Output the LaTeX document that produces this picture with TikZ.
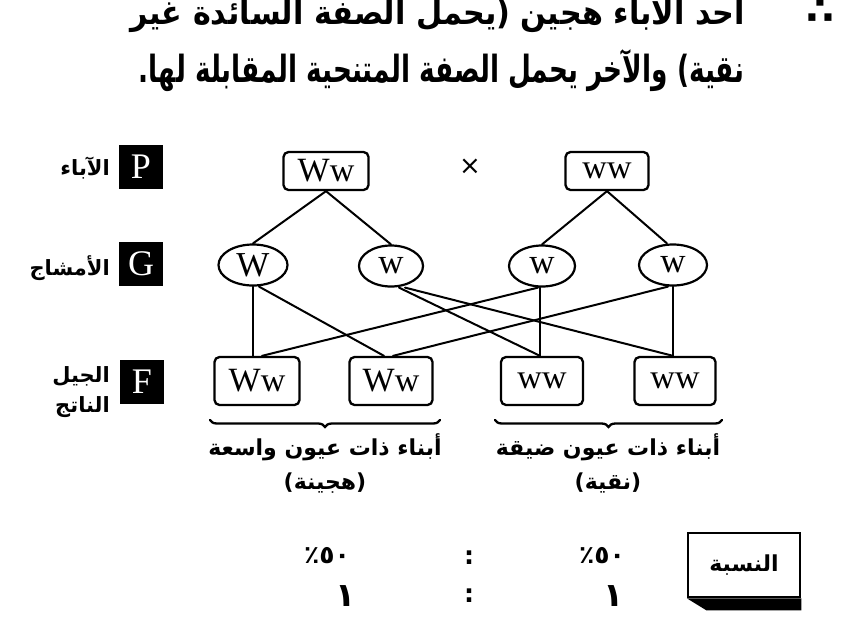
\documentclass[tikz,border=0pt]{standalone}
\usepackage{fontspec}
\usepackage{graphicx}
\setmainfont{Liberation Serif}
\newfontfamily\arabicfont[Script=Arabic]{DejaVu Sans}
\newfontfamily\plainsans{DejaVu Sans}
\TeXXeTstate=1
\usetikzlibrary{shapes.geometric,decorations.pathreplacing}
% one right-to-left line of bold Arabic
\newcommand\artext[1]{{\arabicfont\bfseries\beginR #1\endR}}

\begin{document}
\begin{tikzpicture}[x=1pt,y=-1pt,line cap=round,
  allele/.style={draw,line width=2.3pt,rounded corners=5pt,inner sep=0pt,
    minimum height=38pt,font=\fontsize{34}{34}\selectfont},
  offspring/.style={allele,minimum height=48pt},
  gamete/.style={draw,ellipse,line width=2.2pt,inner sep=0pt,minimum height=41pt,
    font=\fontsize{35}{35}\selectfont},
  tag/.style={fill=black,text=white,minimum width=44pt,minimum height=44pt,
    inner sep=0pt,font=\fontsize{36}{36}\selectfont},
  link/.style={line width=2pt},
  lbl/.style={inner sep=0pt,font=\fontsize{21}{30}\selectfont},
  captext/.style={inner sep=0pt,font=\fontsize{22}{36}\selectfont},
  headline/.style={inner sep=0pt,anchor=base east,font=\fontsize{40}{40}\selectfont},
  bracebar/.style={line width=2.3pt,decorate,decoration={brace,amplitude=7pt}},
  pcttxt/.style={inner sep=0pt,font=\plainsans\bfseries\fontsize{25}{25}\selectfont},
  onetxt/.style={inner sep=0pt,font=\plainsans\bfseries\fontsize{33}{33}\selectfont},
]
\useasboundingbox (0,0) rectangle (856,643);
\clip (0,0) rectangle (856,643);

% heading text (first line runs off the top edge)
\node[headline] (head1) at (745,24)
  {\resizebox{614pt}{33pt}{\artext{أحد الآباء هجين (يحمل الصفة السائدة غير}}};
\node[headline] (headnum) at (835,24) {\plainsans\bfseries ∴};
\node[headline] (head2) at (745,82)
  {\resizebox{606pt}{33pt}{\artext{نقية) والآخر يحمل الصفة المتنحية المقابلة لها.}}};

% row tags
\node[tag] (tP) at (141,167) {P};
\node[lbl,anchor=east] (nP) at (110,168) {\artext{الآباء}};
\node[tag] (tG) at (141,264) {G};
\node[lbl,anchor=east] (nG) at (110,268) {\artext{الأمشاج}};
\node[tag] (tF) at (142,382) {F};
\node[lbl,anchor=east,align=right] (nF) at (110,392) {\artext{الجيل}\\\artext{الناتج}};

% parents
\node[allele,minimum width=85pt] (pA) at (326,171) {Ww};
\node[allele,minimum width=83pt] (pB) at (607,171) {ww};
\node[inner sep=0pt,font=\plainsans\fontsize{26}{26}\selectfont] (cross) at (470,167) {×};

% gametes
\node[gamete,minimum width=69pt] (g1) at (253,265) {W};
\node[gamete,minimum width=64pt] (g2) at (391,266) {w};
\node[gamete,minimum width=66pt] (g3) at (542,266) {w};
\node[gamete,minimum width=68pt] (g4) at (673,265) {w};

% offspring
\node[offspring,minimum width=85pt] (f1) at (257,381) {Ww};
\node[offspring,minimum width=83pt] (f2) at (391,381) {Ww};
\node[offspring,minimum width=82pt] (f3) at (542,381) {ww};
\node[offspring,minimum width=81pt] (f4) at (675,381) {ww};

% parents to gametes
\draw[link] (pA.south) -- (g1.north);
\draw[link] (pA.south) -- (g2.north);
\draw[link] (pB.south) -- (g3.north);
\draw[link] (pB.south) -- ([xshift=-6pt]g4.north);

% gametes to offspring
\draw[link] (g1.south) -- (g1.south |- f1.north);
\draw[link] ([xshift=6pt]g1.south) -- ([xshift=-7pt]f2.north);
\draw[link] ([xshift=8pt]g2.south) -- ([xshift=-2pt]f3.north);
\draw[link] ([xshift=14pt]g2.south) -- ([xshift=-2pt]f4.north);
\draw[link] ([xshift=-2pt]g3.south) -- ([xshift=-2pt]g3.south |- f3.north);
\draw[link] ([xshift=-4pt]g3.south) -- ([xshift=5pt]f1.north);
\draw[link] (g4.south) -- (g4.south |- f4.north);
\draw[link] ([xshift=-5pt]g4.south) -- ([xshift=2pt]f2.north);

% braces under the offspring
\coordinate (bL1) at (210,420);
\coordinate (bL2) at (440,420);
\coordinate (bR1) at (495,420);
\coordinate (bR2) at (722,420);
\draw[bracebar] (bL2) -- (bL1);
\draw[bracebar] (bR2) -- (bR1);

\node[captext] (kidsL) at (325,447) {\artext{أبناء ذات عيون واسعة}};
\node[captext] (kidsLb) at (325,483) {\artext{(هجينة)}};
\node[captext] (kidsR) at (608,447) {\artext{أبناء ذات عيون ضيقة}};
\node[captext] (kidsRb) at (608,483) {\artext{(نقية)}};

% ratio
\node[pcttxt] (pctL) at (327,556) {٪٥٠};
\node[pcttxt] (colA) at (469,558) {:};
\node[pcttxt] (pctR) at (602,556) {٪٥٠};
\node[onetxt] (oneL) at (346,596) {١};
\node[pcttxt] (colB) at (469,596) {:};
\node[onetxt] (oneR) at (614,596) {١};

\node[draw,line width=2.5pt,minimum width=112pt,minimum height=64pt,inner sep=0pt,
  font=\fontsize{22}{22}\selectfont] (ratio) at (744,565) {\artext{النسبة}};
\fill (ratio.south west) -- (ratio.south east) -- ++(0,12) -- ++(-95,0) -- cycle;
\end{tikzpicture}
\end{document}
